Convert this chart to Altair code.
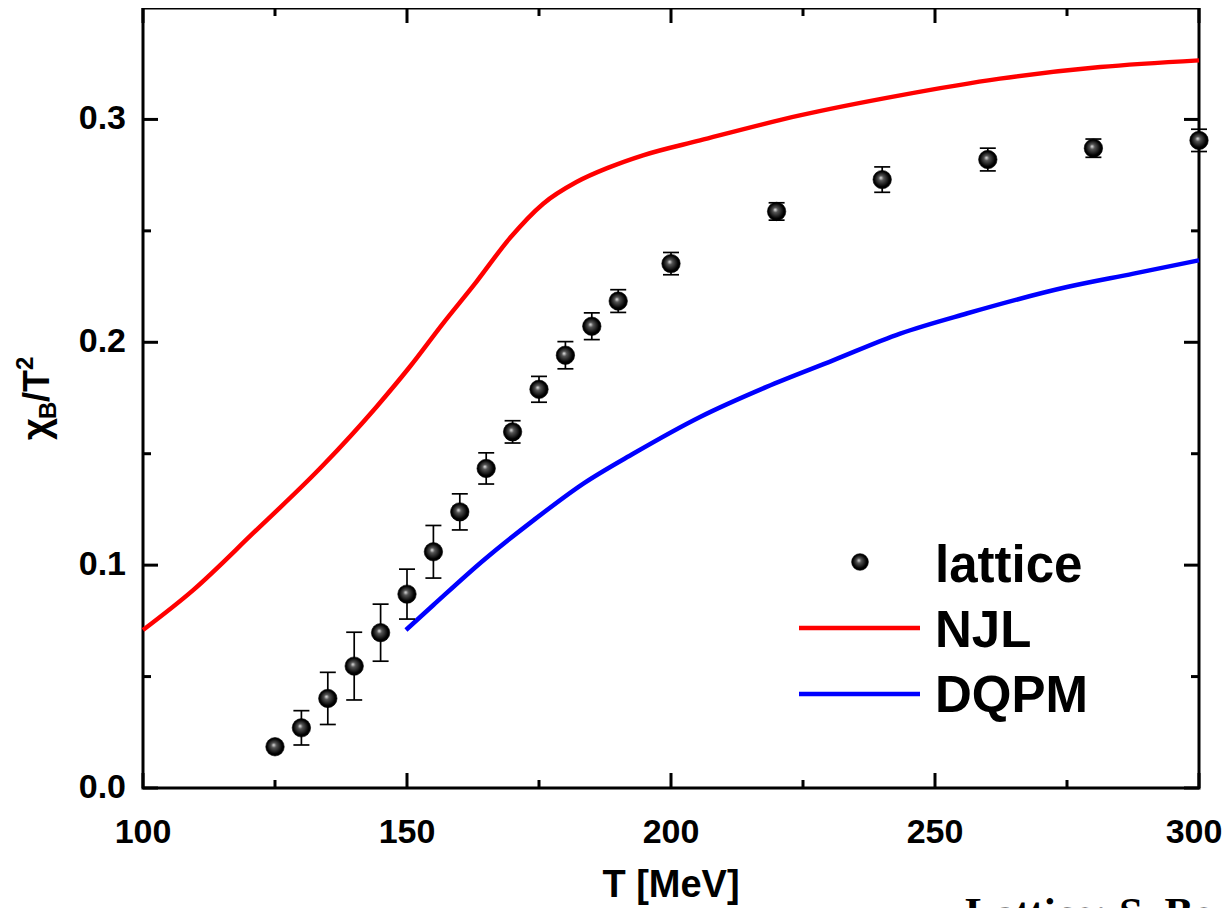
import altair as alt
import pandas as pd

# ---------------- data ----------------
T_lat = [125, 130, 135, 140, 145, 150, 155, 160, 165, 170, 175, 180, 185, 190, 200, 220, 240, 260, 280, 300]
chi_lat = [0.0185, 0.0270, 0.0402, 0.0547, 0.0697, 0.0870, 0.1060, 0.1239, 0.1434, 0.1598,
           0.1789, 0.1942, 0.2072, 0.2185, 0.2353, 0.2587, 0.2730, 0.2820, 0.2871, 0.2906]
err_lat = [0.0010, 0.0077, 0.0117, 0.0152, 0.0128, 0.0112, 0.0118, 0.0081, 0.0070, 0.0050,
           0.0058, 0.0061, 0.0060, 0.0051, 0.0050, 0.0039, 0.0057, 0.0051, 0.0041, 0.0050]

T_njl = [100, 109.5, 120.8, 134.1, 144.2, 150.5, 156.8, 163.1, 169.4, 175.8, 182.1, 188.4, 194.7,
         205.5, 224.4, 243.4, 262.3, 281.3, 300]
chi_njl = [0.0709, 0.0888, 0.1142, 0.1448, 0.1710, 0.1889, 0.2084, 0.2270, 0.2465, 0.2622, 0.2719,
           0.2786, 0.2839, 0.2906, 0.3018, 0.3108, 0.3183, 0.3235, 0.3265]

T_dqpm = [149.8, 155, 164.5, 174, 183.4, 192.9, 205.5, 218.1, 230.7, 243.4, 256, 275, 287.6, 300]
chi_dqpm = [0.0709, 0.0821, 0.1022, 0.1202, 0.1366, 0.1501, 0.1665, 0.1800, 0.1919, 0.2039,
            0.2129, 0.2248, 0.2308, 0.2368]

x_major = [100, 150, 200, 250, 300]
x_major_labels = ["100", "150", "200", "250", "300"]
x_minor = [125, 175, 225, 275]
y_major = [0.0, 0.1, 0.2, 0.3]
y_major_labels = ["0.0", "0.1", "0.2", "0.3"]
y_minor = [0.05, 0.15, 0.25]

legend_labels = ["lattice", "NJL", "DQPM"]
x_title = "T [MeV]"
citation = "Lattice: S. Borsanyi et al."

# ---------------- layout ----------------
W, H = 1056, 780
FONT = "Liberation Sans"
MAJ, MIN = 15, 8

xs = alt.Scale(domain=[100, 300], nice=False, zero=False)
ys = alt.Scale(domain=[0, 0.35], nice=False, zero=False)

def X(f):
    return alt.X(f, scale=xs, axis=None)

def Y(f):
    return alt.Y(f, scale=ys, axis=None)

lat = pd.DataFrame({"T": T_lat, "chi": chi_lat})
lat["lo"] = lat["chi"] - pd.Series(err_lat)
lat["hi"] = lat["chi"] + pd.Series(err_lat)
njl = pd.DataFrame({"T": T_njl, "chi": chi_njl})
dqpm = pd.DataFrame({"T": T_dqpm, "chi": chi_dqpm})
one = pd.DataFrame({"a": [0]})

sphere = alt.RadialGradient(
    gradient="radial",
    stops=[alt.GradientStop(color="#e8e8e8", offset=0),
           alt.GradientStop(color="#555555", offset=0.25),
           alt.GradientStop(color="#000000", offset=0.75),
           alt.GradientStop(color="#000000", offset=1)],
    x1=0.42, y1=0.40, r1=0, x2=0.5, y2=0.5, r2=0.55)

line_njl = alt.Chart(njl).mark_line(color="#ff0000", strokeWidth=4.5, interpolate="monotone").encode(
    x=X("T:Q"), y=Y("chi:Q"))
line_dqpm = alt.Chart(dqpm).mark_line(color="#0000ff", strokeWidth=4.5, interpolate="monotone").encode(
    x=X("T:Q"), y=Y("chi:Q"))

err_rule = alt.Chart(lat).mark_rule(color="black", strokeWidth=1.7).encode(
    x=X("T:Q"), y=Y("lo:Q"), y2="hi:Q")
cap_lo = alt.Chart(lat).mark_tick(color="black", orient="horizontal", size=16, thickness=1.7, opacity=1).encode(
    x=X("T:Q"), y=Y("lo:Q"))
cap_hi = alt.Chart(lat).mark_tick(color="black", orient="horizontal", size=16, thickness=1.7, opacity=1).encode(
    x=X("T:Q"), y=Y("hi:Q"))
pts = alt.Chart(lat).mark_point(shape="circle", filled=True, fill=sphere, size=340, opacity=1,
                                stroke="black", strokeWidth=0.6).encode(x=X("T:Q"), y=Y("chi:Q"))

# inward ticks on all four sides
def xticks(vals, length):
    d = pd.DataFrame({"v": vals})
    b = alt.Chart(d).mark_rule(color="black", strokeWidth=3).encode(
        x=X("v:Q"), y=alt.value(H), y2=alt.value(H - length))
    t = alt.Chart(d).mark_rule(color="black", strokeWidth=3).encode(
        x=X("v:Q"), y=alt.value(0), y2=alt.value(length))
    return [b, t]

def yticks(vals, length):
    d = pd.DataFrame({"v": vals})
    l = alt.Chart(d).mark_rule(color="black", strokeWidth=3).encode(
        y=Y("v:Q"), x=alt.value(0), x2=alt.value(length))
    r = alt.Chart(d).mark_rule(color="black", strokeWidth=3).encode(
        y=Y("v:Q"), x=alt.value(W), x2=alt.value(W - length))
    return [l, r]

ticks = xticks(x_major, MAJ) + xticks(x_minor, MIN) + yticks(y_major, MAJ) + yticks(y_minor, MIN)

# tick labels placed through the scales
xlab_df = pd.DataFrame({"v": x_major, "lab": x_major_labels})
def xlab_layer(df, dx):
    return alt.Chart(df).mark_text(
        font=FONT, fontSize=34, fontWeight="bold", color="black", align="center", baseline="alphabetic",
        dx=dx).encode(x=X("v:Q"), y=alt.value(H + 55), text="lab:N")

xlab_inner = xlab_layer(xlab_df.iloc[:-1], 0)
xlab_last = xlab_layer(xlab_df.iloc[-1:], -5)   # keep the last label inside the page
ylab = alt.Chart(pd.DataFrame({"v": y_major, "lab": y_major_labels})).mark_text(
    font=FONT, fontSize=34, fontWeight="bold", color="black", align="right", baseline="middle").encode(
    y=Y("v:Q"), x=alt.value(-17), text="lab:N")
xtitle = alt.Chart(one).mark_text(text=x_title, font=FONT, fontSize=38, fontWeight="bold", color="black",
                                  align="center", baseline="alphabetic").encode(
    x=alt.value(W / 2), y=alt.value(H + 109))

# y-axis title  chi_B / T^2  (rotated)
def ytxt(s, size, x, y):
    return alt.Chart(one).mark_text(text=s, font=FONT, fontSize=size, fontWeight="bold", color="black",
                                    angle=270, align="left", baseline="alphabetic").encode(
        x=alt.value(x), y=alt.value(y))

ytitle = [ytxt("χ", 38, -94, 432), ytxt("B", 24, -87, 411), ytxt("/T", 36, -94, 394),
          ytxt("2", 24, -110, 362)]

# legend
def ltxt(s, y):
    return alt.Chart(one).mark_text(text=s, font=FONT, fontSize=51, fontWeight="bold", color="black",
                                    align="left", baseline="alphabetic").encode(
        x=alt.value(792), y=alt.value(y))

leg_pt = alt.Chart(one).mark_point(shape="circle", filled=True, fill=sphere, size=280, opacity=1,
                                   stroke="black", strokeWidth=0.6).encode(x=alt.value(717), y=alt.value(554))
leg_njl = alt.Chart(one).mark_rule(color="#ff0000", strokeWidth=4.5).encode(
    x=alt.value(656), x2=alt.value(777), y=alt.value(620))
leg_dqpm = alt.Chart(one).mark_rule(color="#0000ff", strokeWidth=4.5).encode(
    x=alt.value(656), x2=alt.value(777), y=alt.value(686))
legend = [leg_pt, leg_njl, leg_dqpm, ltxt(legend_labels[0], 574), ltxt(legend_labels[1], 639),
          ltxt(legend_labels[2], 704)]

cite = alt.Chart(one).mark_text(text=citation, font="Liberation Serif", fontSize=43, fontWeight="bold",
                                color="black", align="left", baseline="alphabetic").encode(
    x=alt.value(822), y=alt.value(919))

chart = alt.layer(line_njl, line_dqpm, err_rule, cap_lo, cap_hi, pts, *ticks, xlab_inner, xlab_last, ylab,
                  xtitle, *ytitle, *legend, cite).properties(
    width=W, height=H,
    padding={"left": 135, "top": 0, "right": 23, "bottom": 120},
    autosize=alt.AutoSizeParams(type="none"),
    background="white",
).configure_view(stroke="black", strokeWidth=3)

chart.save("out.html", embed_options={"renderer": "svg", "actions": False})
